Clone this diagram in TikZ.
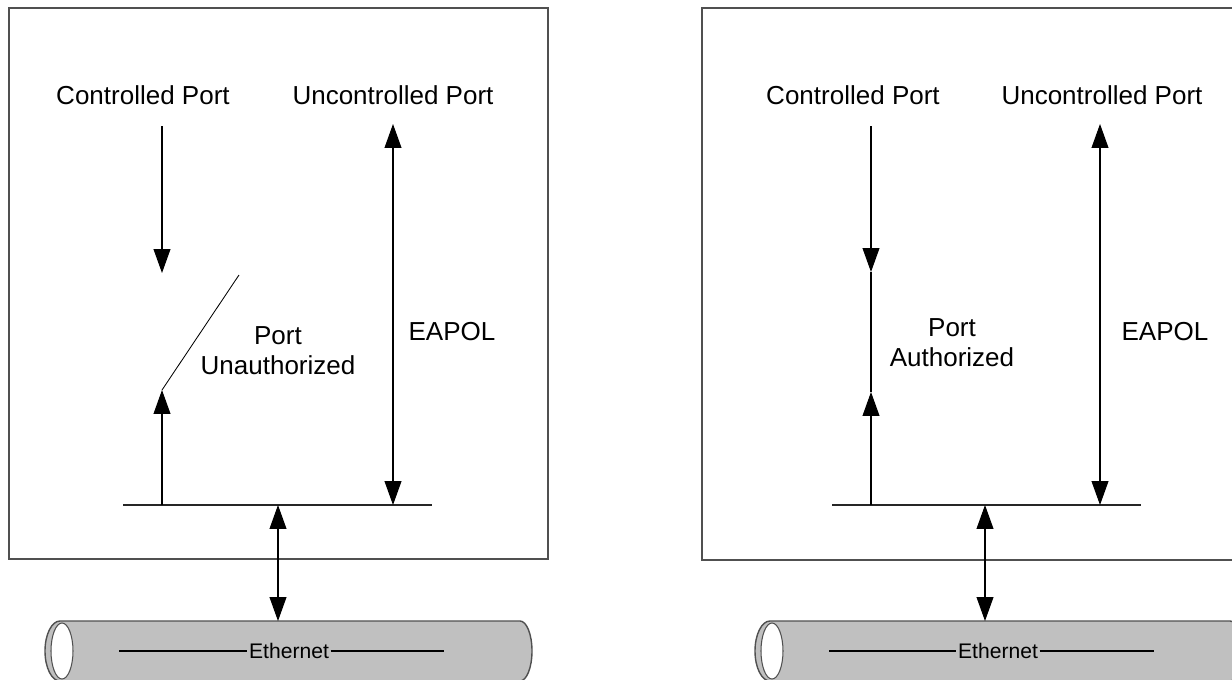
\documentclass[tikz,border=0pt]{standalone}
\usepackage{fontspec}
\setmainfont{Liberation Sans}
\usepackage{tikz}
\usetikzlibrary{arrows.meta}
\definecolor{framegray}{RGB}{80, 80, 80}
\definecolor{pipegray}{RGB}{192, 192, 192}
\tikzset{
  frame/.style={draw=framegray, line width=1.4pt},
  bus/.style={draw=black!85, line width=1pt},
  wire/.style={draw=black, line width=0.75pt},
  arr/.style={wire, -{Triangle[length=17pt, width=12pt]}},
  darr/.style={wire, {Triangle[length=17pt, width=12pt]}-{Triangle[length=17pt, width=12pt]}},
  lbl/.style={font=\fontsize{18.5}{21.3}\selectfont, align=center, inner sep=0pt},
  ethlbl/.style={font=\fontsize{15}{18}\selectfont, inner sep=1pt},
  pipe/.style={draw=framegray, line width=1pt, fill=pipegray},
}

\begin{document}
\begin{tikzpicture}[x=0.025cm, y=-0.025cm]
  \useasboundingbox (0,0) rectangle (1232,679);

  % port unauthorized
  \draw[frame] (9,8) rectangle (548,559);
  \node[lbl] (cpL) at (143,95) {Controlled Port};
  \node[lbl] (upL) at (393,95) {Uncontrolled Port};
  \node[lbl] (stL) at (278,351) {Port\\Unauthorized};
  \node[lbl] (eapL) at (452,332) {EAPOL};

  \coordinate (busLa) at (123,505);
  \coordinate (busLb) at (432,505);
  \draw[bus] (busLa) -- (busLb);

  \coordinate (cpLtop) at (162,126);
  \coordinate (cpLin) at (162,273);
  \coordinate (cpLout) at (162,390);
  \coordinate (cpLbus) at (162,505);
  \coordinate (swL) at (239,275);
  \draw[arr] (cpLtop) -- (cpLin);
  \draw[arr] (cpLbus) -- (cpLout);
  \draw[wire, line width=0.6pt] (cpLout) -- (swL);

  \coordinate (upLtop) at (393,124);
  \coordinate (upLbus) at (393,505);
  \draw[darr] (upLtop) -- (upLbus);

  \path[pipe] (60,621) -- (520,621)
    arc[start angle=-90, end angle=90, x radius=12, y radius=30]
    -- (60,681)
    arc[start angle=90, end angle=270, x radius=15, y radius=30] -- cycle;
  \draw[wire, draw=framegray, fill=white] (62,651) ellipse [x radius=11, y radius=28];
  \node[ethlbl] (ethL) at (289,651) {Ethernet};
  \coordinate (ethLa) at (119,651);
  \coordinate (ethLb) at (444,651);
  \draw[wire] (ethLa) -- (ethL) -- (ethLb);

  \coordinate (busLc) at (278,505);
  \coordinate (pipeL) at (278,621);
  \draw[darr] (busLc) -- (pipeL);

  % port authorized
  \draw[frame] (702,8) rectangle (1240,560);
  \node[lbl] (cpR) at (853,95) {Controlled Port};
  \node[lbl] (upR) at (1102,95) {Uncontrolled Port};
  \node[lbl] (stR) at (952,343) {Port\\Authorized};
  \node[lbl] (eapR) at (1165,332) {EAPOL};

  \coordinate (busRa) at (832,505);
  \coordinate (busRb) at (1141,505);
  \draw[bus] (busRa) -- (busRb);

  \coordinate (cpRtop) at (871,126);
  \coordinate (cpRin) at (871,272);
  \coordinate (cpRout) at (871,392);
  \coordinate (cpRbus) at (871,505);
  \draw[arr] (cpRtop) -- (cpRin);
  \draw[wire] (cpRin) -- (cpRout);
  \draw[arr] (cpRbus) -- (cpRout);

  \coordinate (upRtop) at (1100,124);
  \coordinate (upRbus) at (1100,505);
  \draw[darr] (upRtop) -- (upRbus);

  \path[pipe] (770,621) -- (1230,621)
    arc[start angle=-90, end angle=90, x radius=12, y radius=30]
    -- (770,681)
    arc[start angle=90, end angle=270, x radius=15, y radius=30] -- cycle;
  \draw[wire, draw=framegray, fill=white] (772,651) ellipse [x radius=11, y radius=28];
  \node[ethlbl] (ethR) at (998,651) {Ethernet};
  \coordinate (ethRa) at (829,651);
  \coordinate (ethRb) at (1154,651);
  \draw[wire] (ethRa) -- (ethR) -- (ethRb);

  \coordinate (busRc) at (985,505);
  \coordinate (pipeR) at (985,621);
  \draw[darr] (busRc) -- (pipeR);
\end{tikzpicture}
\end{document}
